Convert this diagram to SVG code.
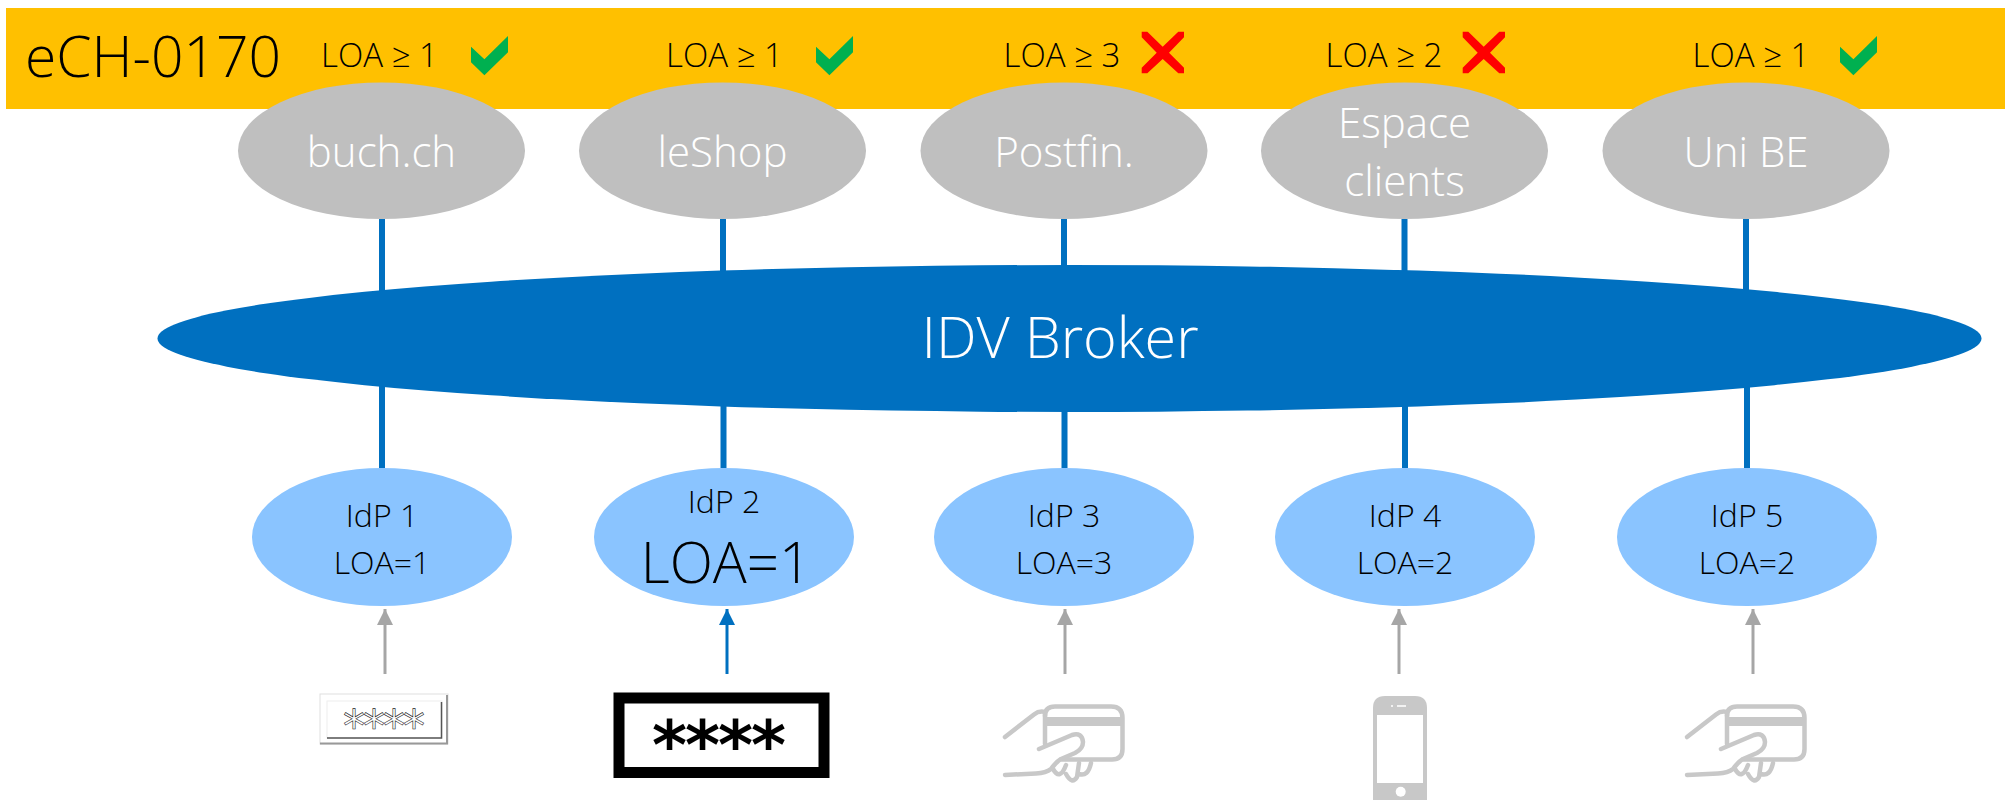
<svg xmlns="http://www.w3.org/2000/svg" width="2005" height="800" viewBox="0 0 2005 800">
<style>
text{font-family:"Open Sans","Liberation Sans",sans-serif;font-weight:300;text-anchor:middle}
.site{fill:#BFBFBF}.site-t{fill:#fff;font-size:42px}
.idp{fill:#8AC4FF}.idp-t{fill:#000;font-size:32px}
.loa{fill:#000;font-size:33px}
.link{stroke:#0070C0;stroke-width:6;fill:none}
.in{stroke:#A6A6A6;stroke-width:3;fill:none}
.in-b{stroke:#0070C0;stroke-width:3;fill:none}
.ico{fill:none;stroke:#C8C8C8;stroke-width:4.500;stroke-linecap:round;stroke-linejoin:round}
</style>
<defs>
<marker id="ag" markerUnits="userSpaceOnUse" markerWidth="16" markerHeight="16" refX="16" refY="8" orient="auto"><path d="M0 0L16 8L0 16Z" fill="#A6A6A6"/></marker>
<marker id="ab" markerUnits="userSpaceOnUse" markerWidth="16" markerHeight="16" refX="16" refY="8" orient="auto"><path d="M0 0L16 8L0 16Z" fill="#0070C0"/></marker>
<polygon id="check" points="471,46.7 484.4,59.3 508,36 508,52.3 484.4,75.3 471,62.3" fill="#00B050"/>
<polygon id="cross" points="1141.700,31.700 1147.300,31.700 1162.700,46.700 1178.300,31.700 1184,31.700 1184,37.300 1169,52.700 1184,67.700 1184,73.300 1178.300,73.300 1162.700,59 1147.300,73.300 1141.700,73.300 1141.700,67.700 1156.700,52.700 1141.700,37.300" fill="#FF0000"/>
<g id="card">
<path class="ico" d="M1045 716Q1045 706.500 1055 706.500H1111Q1122.500 706.500 1122.500 718V749Q1122.500 759.500 1112 759.500H1062"/>
<path d="M1045 717H1122.500V726H1045Z" fill="#C8C8C8"/>
<path class="ico" d="M1005 737L1034 714.500Q1039 710.500 1045 712V744"/>
<path class="ico" d="M1039 749L1072 735Q1082 732 1083 742Q1083 749 1075 753L1061 759Q1056 762 1051 769Q1046 773 1036 773.500L1005 775"/>
<path class="ico" d="M1053 769Q1060 781 1066 765M1066 774Q1072 785 1077 777L1079 763M1079 774Q1088 777 1091 763"/>
</g>
</defs>
<rect id="banner" x="6" y="8" width="1999" height="101" fill="#FFC000"/>
<text x="153" y="77" font-size="57" fill="#000">eCH-0170</text>
<g id="connectors">
<path class="link" d="M382 219V338M382 338V468M723 219V338M723.500 338V468M1064 219V338M1064.500 338V468M1404.500 219V338M1405 338V468M1746 219V338M1747 338V468"/>
<path class="in" marker-end="url(#ag)" d="M385 674V609"/>
<path class="in-b" marker-end="url(#ab)" d="M727 674V609"/>
<path class="in" marker-end="url(#ag)" d="M1065 674V609"/>
<path class="in" marker-end="url(#ag)" d="M1399 674V609"/>
<path class="in" marker-end="url(#ag)" d="M1753 674V609"/>
</g>
<g id="req1"><text class="loa" x="379.500" y="67">LOA ≥ 1</text><use href="#check"/></g>
<g id="req2"><text class="loa" x="724.500" y="67">LOA ≥ 1</text><use href="#check" x="345"/></g>
<g id="req3"><text class="loa" x="1062" y="67">LOA ≥ 3</text><use href="#cross"/></g>
<g id="req4"><text class="loa" x="1384" y="67">LOA ≥ 2</text><use href="#cross" x="321"/></g>
<g id="req5"><text class="loa" x="1751" y="67">LOA ≥ 1</text><use href="#check" x="1369"/></g>
<g id="site1"><ellipse class="site" cx="381.500" cy="150.700" rx="143.500" ry="68.300"/><text class="site-t" x="381.500" y="167">buch.ch</text></g>
<g id="site2"><ellipse class="site" cx="722.500" cy="150.700" rx="143.500" ry="68.300"/><text class="site-t" x="722.500" y="167">leShop</text></g>
<g id="site3"><ellipse class="site" cx="1064" cy="150.700" rx="143.500" ry="68.300"/><text class="site-t" x="1064" y="167">Postfin.</text></g>
<g id="site4"><ellipse class="site" cx="1404.500" cy="150.700" rx="143.500" ry="68.300"/><text class="site-t" x="1404.500" y="138">Espace</text><text class="site-t" x="1404.500" y="196">clients</text></g>
<g id="site5"><ellipse class="site" cx="1746" cy="150.700" rx="143.500" ry="68.300"/><text class="site-t" x="1746" y="167">Uni BE</text></g>
<g id="broker"><ellipse cx="1069.500" cy="338.500" rx="912" ry="73.500" fill="#0070C0"/><text x="1060" y="358" font-size="57.500" fill="#fff">IDV Broker</text></g>
<g id="idp1"><ellipse class="idp" cx="382" cy="537" rx="130" ry="69"/><text class="idp-t" x="382" y="527">IdP 1</text><text class="idp-t" x="382" y="574">LOA=1</text></g>
<g id="idp2"><ellipse class="idp" cx="724" cy="537" rx="130" ry="69"/><text class="idp-t" x="724" y="513">IdP 2</text><text x="726" y="583" font-size="56.500" fill="#000">LOA=1</text></g>
<g id="idp3"><ellipse class="idp" cx="1064" cy="537" rx="130" ry="69"/><text class="idp-t" x="1064" y="527">IdP 3</text><text class="idp-t" x="1064" y="574">LOA=3</text></g>
<g id="idp4"><ellipse class="idp" cx="1405" cy="537" rx="130" ry="69"/><text class="idp-t" x="1405" y="527">IdP 4</text><text class="idp-t" x="1405" y="574">LOA=2</text></g>
<g id="idp5"><ellipse class="idp" cx="1747" cy="537" rx="130" ry="69"/><text class="idp-t" x="1747" y="527">IdP 5</text><text class="idp-t" x="1747" y="574">LOA=2</text></g>
<g id="cred1">
<rect x="320" y="694" width="128" height="50" fill="#fff" stroke="#E0E0E0" stroke-width="1"/>
<path d="M447 695V743.500H320" fill="none" stroke="#999" stroke-width="2"/>
<rect x="327" y="701" width="115" height="37" fill="#fff" stroke="#EEE" stroke-width="1"/>
<path d="M441.500 702V738H327" fill="none" stroke="#555" stroke-width="1.500"/>
<text x="383" y="742" font-size="44" style="font-family:'DejaVu Sans',sans-serif;font-weight:400" fill="#fff" stroke="#222" stroke-width=".6" letter-spacing="-2">****</text>
</g>
<g id="cred2">
<rect x="619" y="698" width="205" height="74.500" fill="#fff" stroke="#000" stroke-width="11"/>
<text x="718" y="768.500" font-size="67" style="font-family:'DejaVu Sans',sans-serif;font-weight:700" fill="#000" letter-spacing="-2">****</text>
</g>
<use id="cred3" href="#card"/>
<g id="cred4">
<path d="M1373 708Q1373 696 1385 696H1415Q1427 696 1427 708V800H1373Z" fill="#C8C8C8"/>
<rect x="1377" y="715" width="46" height="68" fill="#fff"/>
<circle cx="1400.700" cy="791.700" r="5" fill="#fff"/>
<path d="M1391 706H1393M1397 706H1406" stroke="#fff" stroke-width="1.500"/>
</g>
<use id="cred5" href="#card" x="682"/>
</svg>
